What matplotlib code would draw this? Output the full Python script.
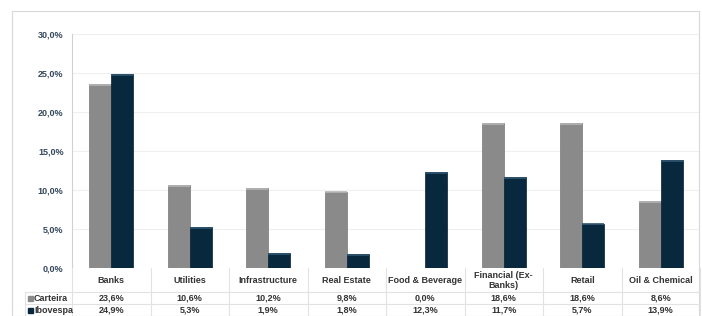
import matplotlib
matplotlib.use("Agg")
import matplotlib.pyplot as plt
from matplotlib.patches import Rectangle, Patch
from matplotlib.lines import Line2D
import numpy as np

categories = ["Banks", "Utilities", "Infrastructure", "Real Estate", "Food & Beverage",
              "Financial (Ex-\nBanks)", "Retail", "Oil & Chemical"]
carteira = [23.6, 10.6, 10.2, 9.8, 0.0, 18.6, 18.6, 8.6]
ibovespa = [24.9, 5.3, 1.9, 1.8, 12.3, 11.7, 5.7, 13.9]
series_names = ["Carteira", "Ibovespa"]
yticks = [0, 5, 10, 15, 20, 25, 30]

W, H = 702, 316
fig = plt.figure(figsize=(W / 100, H / 100), dpi=100)
plt.rcParams['font.family'] = ['Liberation Sans', 'DejaVu Sans']

c_gray = "#8a8a8a"
c_navy = "#08283d"
tick_col = "#34475c"
txt_col = "#333333"
line_col = "#e2e2e2"

# outer border
fig.patches.append(Rectangle((12 / W, 0), (699 - 12) / W, (H - 11) / H,
                             transform=fig.transFigure, fill=False,
                             edgecolor="#d8d8d8", lw=0.8))

x0, x1 = 72, 700
ytop, yzero = 34, 268
ax = fig.add_axes([x0 / W, (H - yzero) / H, (x1 - x0) / W, (yzero - ytop) / H])
n = len(categories)
x = np.arange(n)
bw = 0.28
ax.bar(x - bw / 2, carteira, bw, color=c_gray, edgecolor="#777777", lw=0.5, zorder=3)
ax.bar(x + bw / 2, ibovespa, bw, color=c_navy, edgecolor="#05202f", lw=0.5, zorder=3)
# slight top highlight
for xi, v in zip(x, carteira):
    if v > 0:
        ax.plot([xi - bw, xi], [v - 0.12, v - 0.12], color="#b5b5b5", lw=1.2, zorder=4,
                solid_capstyle="butt")
for xi, v in zip(x, ibovespa):
    if v > 0:
        ax.plot([xi, xi + bw], [v - 0.12, v - 0.12], color="#2e5570", lw=1.2, zorder=4,
                solid_capstyle="butt")

ax.set_xlim(-0.5, n - 0.5)
ax.set_ylim(0, 30)
ax.set_yticks(yticks)
ax.set_yticklabels([f"{t:.1f}%".replace(".", ",") for t in yticks],
                   fontsize=6.5, fontweight="bold", color=tick_col)
ax.tick_params(axis="y", length=0, pad=6)
ax.set_xticks([])
ax.grid(axis="y", color="#efefef", lw=0.8, zorder=0)
for s in ["top", "right", "bottom"]:
    ax.spines[s].set_visible(False)
ax.spines["left"].set_color("#d0d0d0")
ax.spines["left"].set_linewidth(0.8)

# table
fig_tr = fig.transFigure
def fx(p):
    return p / W
def fy(p):
    return (H - p) / H

col_w = (x1 - x0) / n
row_cat = (268, 292)
row_c = (292, 304)
row_i = (304, 316)
# vertical lines
for k in range(n + 1):
    xx = x0 + k * col_w
    fig.add_artist(Line2D([fx(xx), fx(xx)], [fy(268), fy(316)], transform=fig_tr,
                          color=line_col, lw=0.8))
# horizontal lines
for yy in [292, 304]:
    fig.add_artist(Line2D([fx(25), fx(x1)], [fy(yy), fy(yy)], transform=fig_tr,
                          color=line_col, lw=0.8))
fig.add_artist(Line2D([fx(25), fx(25)], [fy(292), fy(316)], transform=fig_tr,
                      color=line_col, lw=0.8))

for k, cat in enumerate(categories):
    cx = x0 + (k + 0.5) * col_w
    fig.text(fx(cx), fy(280.5), cat, ha="center", va="center", fontsize=6.5,
             fontweight="bold", color=txt_col, linespacing=1.0)
    fig.text(fx(cx), fy(298.5), f"{carteira[k]:.1f}%".replace(".", ","), ha="center",
             va="center", fontsize=6.5, fontweight="bold", color=txt_col)
    fig.text(fx(cx), fy(310.5), f"{ibovespa[k]:.1f}%".replace(".", ","), ha="center",
             va="center", fontsize=6.5, fontweight="bold", color=txt_col)

for name, col, yc in [(series_names[0], c_gray, 298.5), (series_names[1], c_navy, 310.5)]:
    fig.patches.append(Rectangle((fx(28), fy(yc + 2.5)), 5 / W, 5 / H, transform=fig_tr,
                                 color=col))
    fig.text(fx(34), fy(yc), name, ha="left", va="center", fontsize=6.5,
             fontweight="bold", color=txt_col)

fig.savefig("out.png", dpi=100)
